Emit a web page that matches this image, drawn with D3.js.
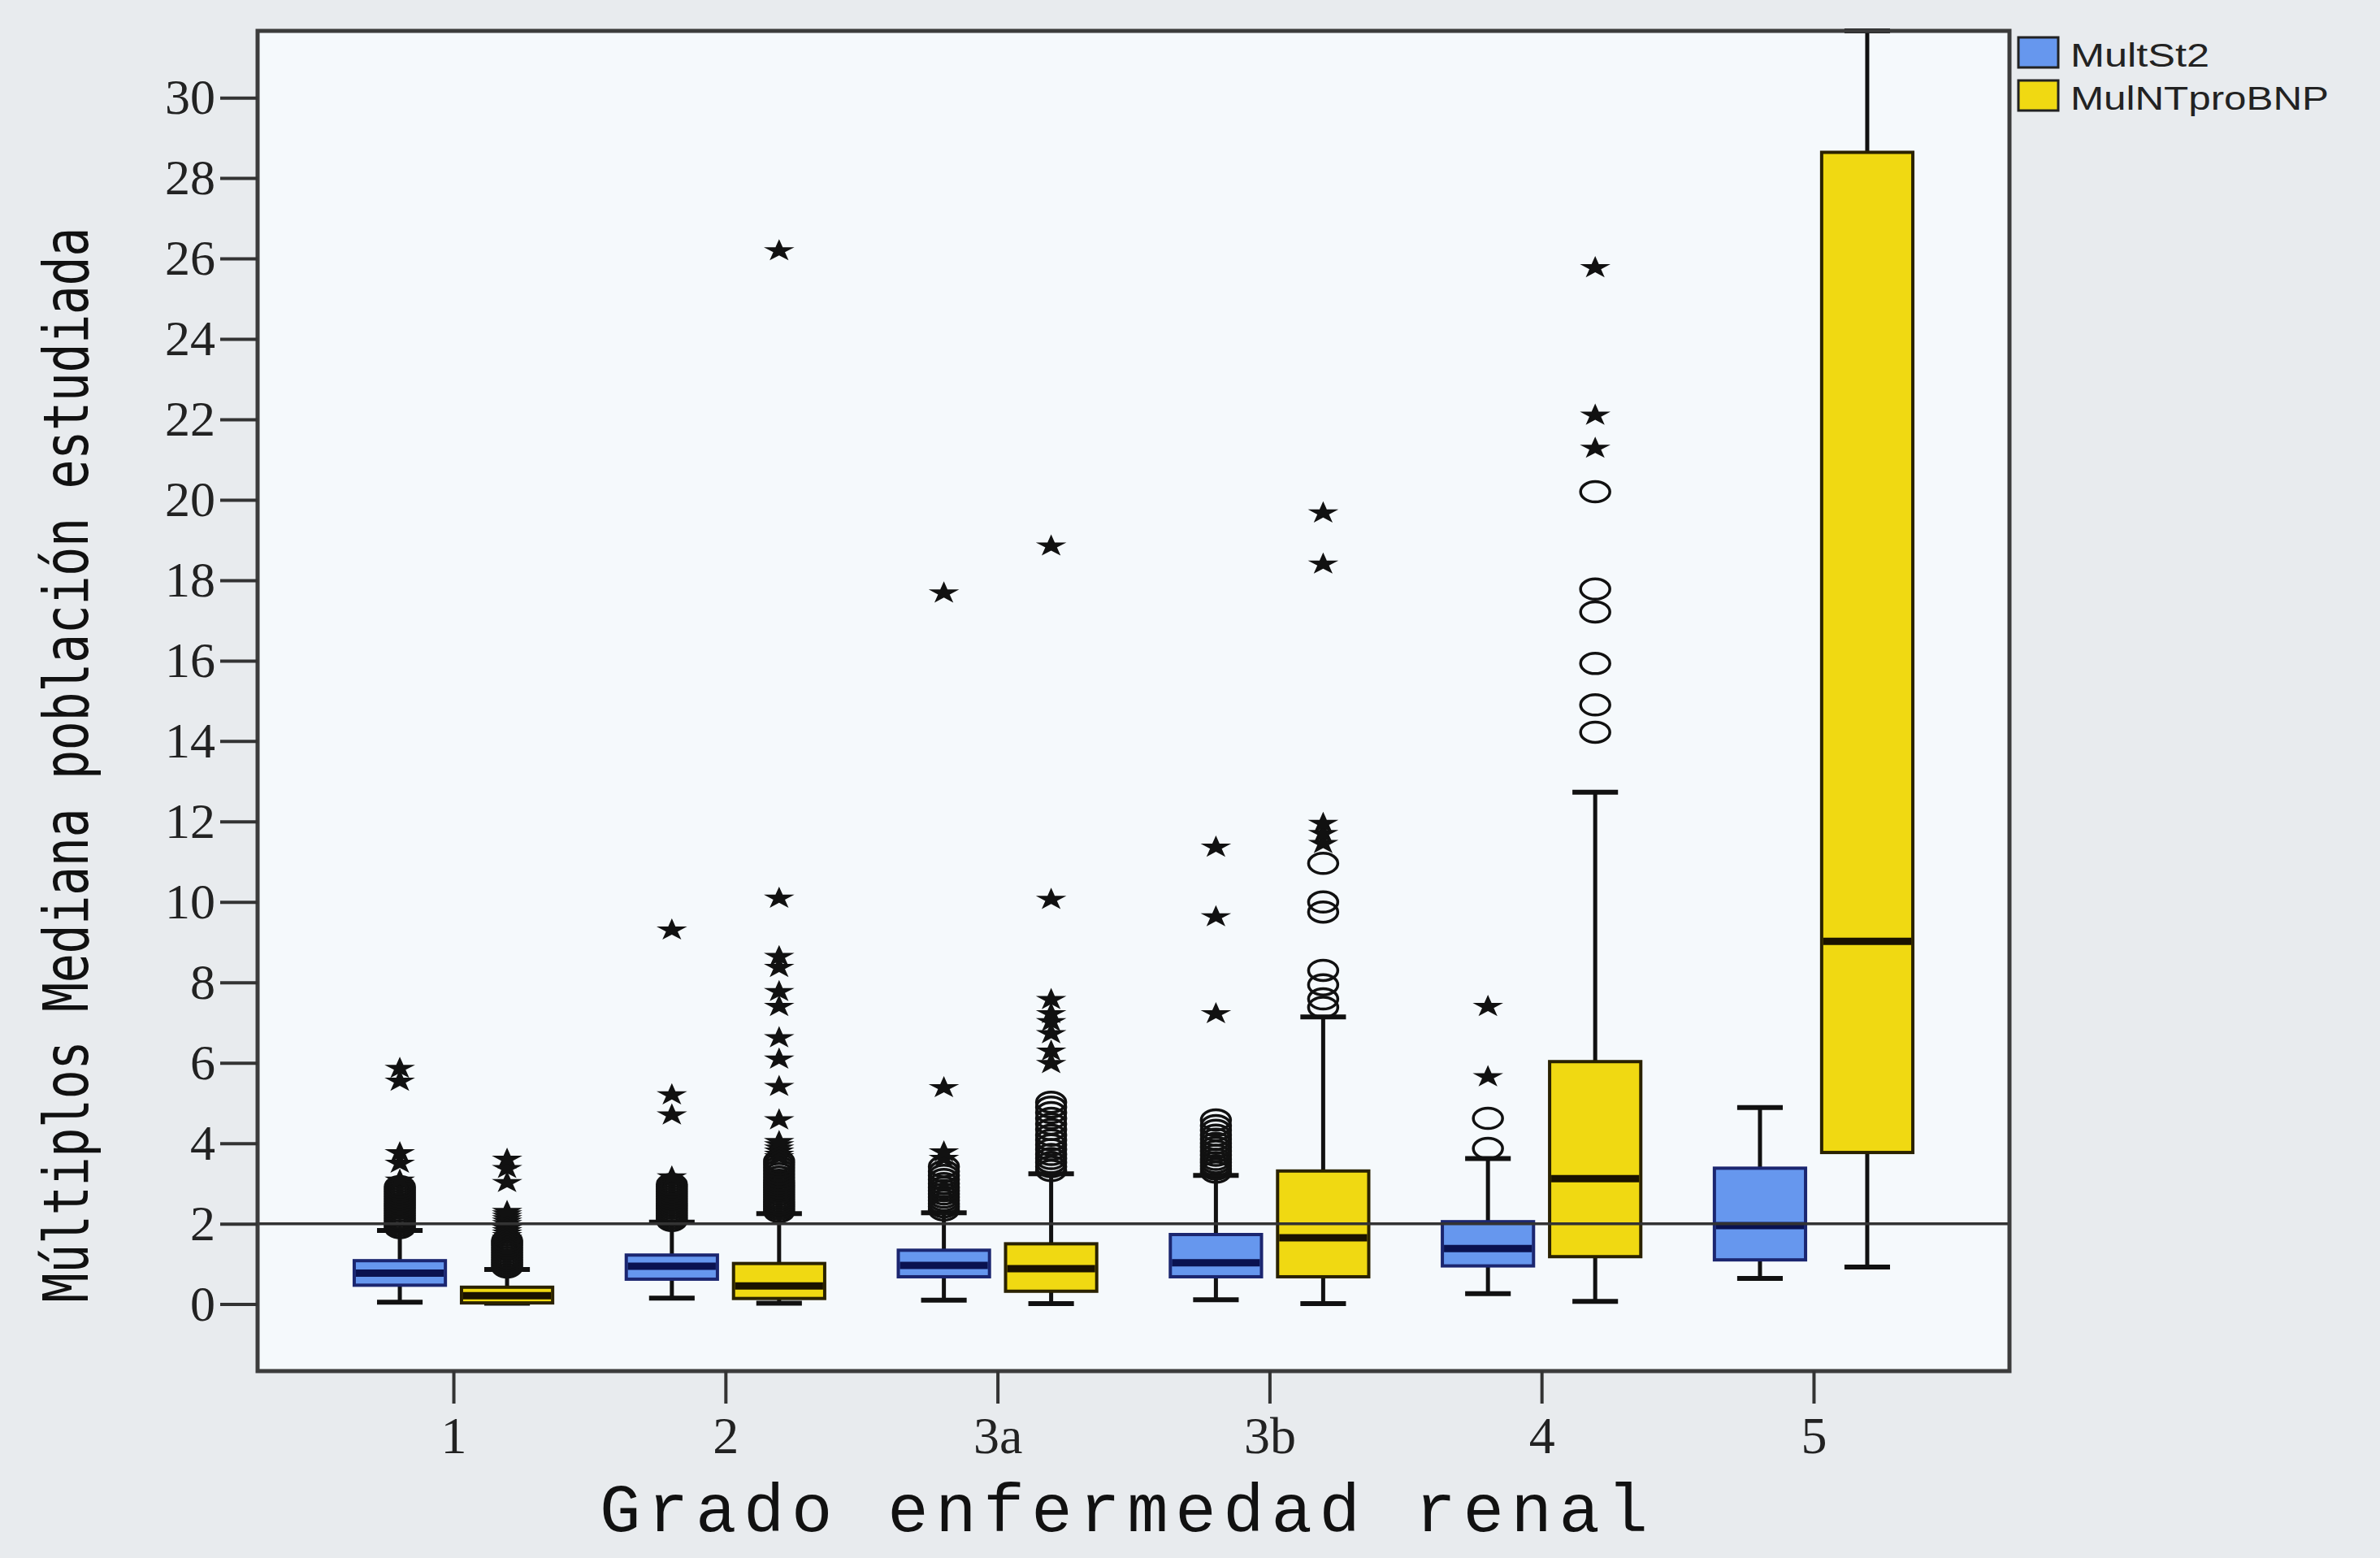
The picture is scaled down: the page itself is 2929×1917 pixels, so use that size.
<!DOCTYPE html>
<html>
<head>
<meta charset="utf-8">
<script src="https://cdnjs.cloudflare.com/ajax/libs/d3/7.8.5/d3.min.js"></script>
<style>
  html, body { margin: 0; padding: 0; background: #e8ebee; }
  svg { display: block; }
</style>
</head>
<body>
<div id="chart"></div>
<script>
// categories on the x axis and the two series
const categories = ['1', '2', '3a', '3b', '4', '5'];
const seriesNames = ['MultSt2', 'MulNTproBNP'];
const yTicks = [0, 2, 4, 6, 8, 10, 12, 14, 16, 18, 20, 22, 24, 26, 28, 30];

// [lower whisker, Q1, median, Q3, upper whisker] for each category
const st2Box = [
  [0.05, 0.47, 0.77, 1.08, 1.83],
  [0.15, 0.62, 0.94, 1.22, 2.04],
  [0.10, 0.68, 0.96, 1.34, 2.27],
  [0.11, 0.68, 1.03, 1.73, 3.20],
  [0.26, 0.95, 1.38, 2.05, 3.62],
  [0.64, 1.10, 1.95, 3.38, 4.89]
];
const bnpBox = [
  [0.02, 0.03, 0.21, 0.42, 0.86],
  [0.02, 0.14, 0.45, 1.01, 2.25],
  [0.01, 0.32, 0.88, 1.50, 3.24],
  [0.01, 0.68, 1.65, 3.31, 7.14],
  [0.07, 1.18, 3.12, 6.03, 12.73],
  [0.92, 3.77, 9.02, 28.64, 31.66]
];

// outliers drawn as circles (mild) and stars (extreme)
const st2Mild = [
  [1.90, 1.96, 2.02, 2.08, 2.14, 2.20, 2.26, 2.32, 2.38, 2.44, 2.50, 2.56, 2.62, 2.68, 2.74, 2.80, 2.86, 2.92],
  [2.08, 2.14, 2.20, 2.26, 2.32, 2.38, 2.44, 2.50, 2.56, 2.62, 2.68, 2.74, 2.80, 2.86, 2.92, 2.98],
  [2.34, 2.42, 2.50, 2.58, 2.66, 2.74, 2.82, 2.90, 3.00, 3.10, 3.20, 3.30, 3.42],
  [3.28, 3.36, 3.44, 3.52, 3.60, 3.70, 3.80, 3.90, 4.00, 4.10, 4.20, 4.32, 4.44, 4.58],
  [3.87, 4.62],
  []
];
const st2Extreme = [
  [3.08, 3.50, 3.76, 5.54, 5.86],
  [3.16, 4.70, 5.20, 9.30],
  [3.62, 3.78, 5.38, 17.68],
  [7.22, 9.63, 11.36],
  [5.65, 7.40],
  []
];
const bnpMild = [
  [0.92, 0.98, 1.04, 1.10, 1.16, 1.22, 1.28, 1.34, 1.40, 1.46, 1.52, 1.58],
  [2.30, 2.36, 2.42, 2.48, 2.54, 2.60, 2.66, 2.72, 2.78, 2.84, 2.90, 2.96, 3.02, 3.08, 3.16, 3.24, 3.32, 3.40, 3.48, 3.56],
  [3.32, 3.42, 3.52, 3.62, 3.72, 3.84, 3.96, 4.08, 4.20, 4.34, 4.48, 4.62, 4.76, 4.90, 5.02],
  [7.38, 7.59, 7.94, 8.30, 9.75, 10.00, 10.96],
  [14.22, 14.90, 15.93, 17.21, 17.78, 20.20],
  []
];
const bnpExtreme = [
  [1.64, 1.70, 1.76, 1.82, 1.88, 1.94, 2.00, 2.06, 2.12, 2.18, 2.24, 2.30, 3.02, 3.37, 3.60],
  [3.66, 3.72, 3.80, 3.88, 3.96, 4.04, 4.58, 5.41, 6.09, 6.62, 7.40, 7.77, 8.37, 8.64, 10.09, 26.19],
  [5.98, 6.29, 6.72, 7.02, 7.22, 7.57, 10.06, 18.85],
  [11.45, 11.70, 11.95, 18.40, 19.67],
  [21.28, 22.10, 25.77],
  []
];

const boxData = [st2Box, bnpBox];
const mildData = [st2Mild, bnpMild];
const extremeData = [st2Extreme, bnpExtreme];

const width = 2929;
const height = 1917;
const plot = { left: 317, right: 2473, top: 38, bottom: 1687 };
const fills = ['#6697ee', '#f0d912'];
const borders = ['#1b2670', '#2a2200'];
const medians = ['#0a1250', '#1a1200'];

const svg = d3.select('#chart')
  .append('svg')
  .attr('width', width)
  .attr('height', height);

svg.append('rect')
  .attr('width', width)
  .attr('height', height)
  .attr('fill', '#e8ebee');

svg.append('rect')
  .attr('x', plot.left)
  .attr('y', plot.top)
  .attr('width', plot.right - plot.left)
  .attr('height', plot.bottom - plot.top)
  .attr('fill', '#f5f9fc');

const x = d3.scalePoint()
  .domain(categories)
  .range([plot.left, plot.right])
  .padding(0.72);

const xSub = d3.scaleBand()
  .domain(seriesNames)
  .range([-132, 132]);

const y = d3.scaleLinear()
  .domain([-1.665, 31.66])
  .range([plot.bottom, plot.top]);

const boxW = xSub.bandwidth() * 0.85;
const capW = boxW / 2;

// one entry per box
const groups = [];
categories.forEach((cat, i) => {
  seriesNames.forEach((s, k) => {
    groups.push({
      cat: cat,
      k: k,
      cx: x(cat) + xSub(s) + xSub.bandwidth() / 2,
      stats: boxData[k][i],
      mild: mildData[k][i],
      extreme: extremeData[k][i]
    });
  });
});

const g = svg.selectAll('.box')
  .data(groups)
  .enter().append('g')
  .attr('class', 'box');

// whiskers
g.append('line')
  .attr('x1', d => d.cx).attr('x2', d => d.cx)
  .attr('y1', d => y(d.stats[0])).attr('y2', d => y(d.stats[1]))
  .attr('stroke', '#111').attr('stroke-width', 5);
g.append('line')
  .attr('x1', d => d.cx).attr('x2', d => d.cx)
  .attr('y1', d => y(d.stats[3])).attr('y2', d => y(d.stats[4]))
  .attr('stroke', '#111').attr('stroke-width', 5);
g.append('line')
  .attr('x1', d => d.cx - capW / 2).attr('x2', d => d.cx + capW / 2)
  .attr('y1', d => y(d.stats[0])).attr('y2', d => y(d.stats[0]))
  .attr('stroke', '#111').attr('stroke-width', 6);
g.append('line')
  .attr('x1', d => d.cx - capW / 2).attr('x2', d => d.cx + capW / 2)
  .attr('y1', d => y(d.stats[4])).attr('y2', d => y(d.stats[4]))
  .attr('stroke', '#111').attr('stroke-width', 6);

// boxes
g.append('rect')
  .attr('x', d => d.cx - boxW / 2)
  .attr('width', boxW)
  .attr('y', d => y(d.stats[3]))
  .attr('height', d => y(d.stats[1]) - y(d.stats[3]))
  .attr('fill', d => fills[d.k])
  .attr('stroke', d => borders[d.k])
  .attr('stroke-width', 4);

g.append('line')
  .attr('x1', d => d.cx - boxW / 2 + 2).attr('x2', d => d.cx + boxW / 2 - 2)
  .attr('y1', d => y(d.stats[2])).attr('y2', d => y(d.stats[2]))
  .attr('stroke', d => medians[d.k])
  .attr('stroke-width', 9);

// mild outliers
g.selectAll('.mild')
  .data(d => d.mild.map(v => ({ cx: d.cx, v: v })))
  .enter().append('ellipse')
  .attr('class', 'mild')
  .attr('cx', d => d.cx)
  .attr('cy', d => y(d.v))
  .attr('rx', 18)
  .attr('ry', 12.5)
  .attr('fill', 'none')
  .attr('stroke', '#111')
  .attr('stroke-width', 3.5);

// extreme outliers
const star = d3.symbol().type(d3.symbolStar).size(260);
g.selectAll('.extreme')
  .data(d => d.extreme.map(v => ({ cx: d.cx, v: v })))
  .enter().append('path')
  .attr('class', 'extreme')
  .attr('d', star)
  .attr('transform', d => 'translate(' + d.cx + ',' + y(d.v) + ') scale(1.3,0.95)')
  .attr('fill', '#111');

// reference line at 2
svg.append('line')
  .attr('x1', plot.left).attr('x2', plot.right)
  .attr('y1', y(2)).attr('y2', y(2))
  .attr('stroke', '#333')
  .attr('stroke-width', 3.5);

// frame
svg.append('rect')
  .attr('x', plot.left)
  .attr('y', plot.top)
  .attr('width', plot.right - plot.left)
  .attr('height', plot.bottom - plot.top)
  .attr('fill', 'none')
  .attr('stroke', '#3c3c3c')
  .attr('stroke-width', 5);

// axes
const yAxis = svg.append('g')
  .attr('transform', 'translate(' + plot.left + ',0)')
  .call(d3.axisLeft(y).tickValues(yTicks).tickSize(46).tickPadding(6));
yAxis.select('.domain').remove();
yAxis.selectAll('line').attr('stroke', '#333').attr('stroke-width', 4);
yAxis.selectAll('text')
  .attr('fill', '#222')
  .style('font-family', '"Liberation Serif", serif')
  .style('font-size', '62px');

const xAxis = svg.append('g')
  .attr('transform', 'translate(0,' + plot.bottom + ')')
  .call(d3.axisBottom(x).tickSize(40).tickPadding(16));
xAxis.select('.domain').remove();
xAxis.selectAll('line').attr('stroke', '#333').attr('stroke-width', 4);
xAxis.selectAll('text')
  .attr('fill', '#222')
  .style('font-family', '"Liberation Serif", serif')
  .style('font-size', '64px');

// axis titles
svg.append('text')
  .attr('x', 1383)
  .attr('y', 1884)
  .attr('text-anchor', 'middle')
  .attr('textLength', 1290)
  .attr('lengthAdjust', 'spacing')
  .style('font-family', '"Liberation Mono", monospace')
  .style('font-size', '84px')
  .attr('fill', '#111')
  .text('Grado enfermedad renal');

svg.append('text')
  .attr('transform', 'translate(108,941) scale(1.27,1) rotate(-90)')
  .attr('text-anchor', 'middle')
  .attr('textLength', 1323)
  .attr('lengthAdjust', 'spacing')
  .style('font-family', '"DejaVu Sans Mono", monospace')
  .style('font-size', '60px')
  .attr('fill', '#111')
  .text('Múltiplos Mediana población estudiada');

// legend
const legend = svg.selectAll('.legend')
  .data(seriesNames)
  .enter().append('g')
  .attr('class', 'legend')
  .attr('transform', (d, i) => 'translate(2484,' + (46 + i * 53) + ')');

legend.append('rect')
  .attr('width', 49)
  .attr('height', 37)
  .attr('fill', (d, i) => fills[i])
  .attr('stroke', '#222')
  .attr('stroke-width', 3);

legend.append('text')
  .attr('x', 64)
  .attr('y', 36)
  .attr('textLength', (d, i) => [171, 318][i])
  .attr('lengthAdjust', 'spacingAndGlyphs')
  .style('font-family', '"Liberation Sans", Arial, sans-serif')
  .style('font-size', '40px')
  .attr('fill', '#222')
  .text(d => d);
</script>
</body>
</html>
